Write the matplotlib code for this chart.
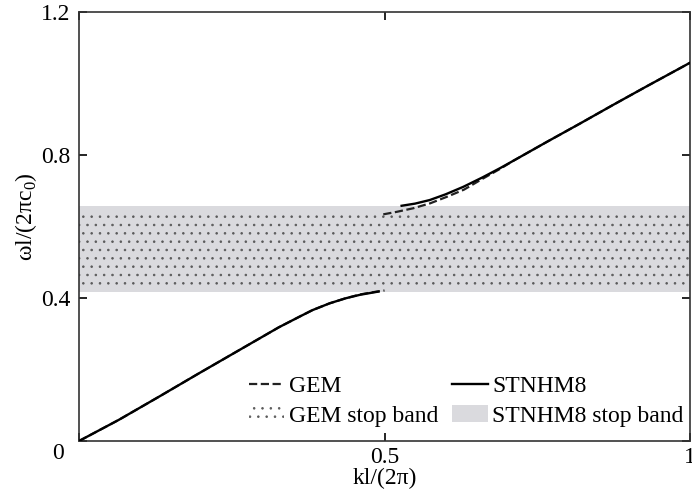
import matplotlib
matplotlib.use('Agg')
import matplotlib.pyplot as plt

plt.rcParams['font.family'] = ['Liberation Serif', 'DejaVu Serif']
plt.rcParams['mathtext.fontset'] = 'custom'
plt.rcParams['mathtext.rm'] = 'Liberation Serif'
plt.rcParams['font.size'] = 17
plt.rcParams['hatch.color'] = '#5a5a5a'
plt.rcParams['hatch.linewidth'] = 0.6

# lower branch (acoustic-like)
k_low = [0, 0.065, 0.131, 0.196, 0.262, 0.327, 0.36, 0.382, 0.41, 0.436, 0.46, 0.48, 0.49]
w_low_stnhm8 = [0, 0.059, 0.124, 0.189, 0.254, 0.318, 0.347, 0.366, 0.385, 0.399, 0.409, 0.415, 0.418]
k_low_gem = [0, 0.065, 0.131, 0.196, 0.262, 0.327, 0.36, 0.382, 0.41, 0.436, 0.46, 0.48, 0.5]
w_low_gem = [0, 0.059, 0.124, 0.189, 0.254, 0.318, 0.347, 0.366, 0.385, 0.399, 0.410, 0.416, 0.421]

# upper branch
k_up_stnhm8 = [0.528, 0.55, 0.574, 0.60, 0.629, 0.66, 0.69, 0.711, 0.765, 0.82, 0.874, 0.929, 1.0]
w_up_stnhm8 = [0.658, 0.664, 0.674, 0.690, 0.711, 0.737, 0.764, 0.784, 0.836, 0.888, 0.940, 0.992, 1.058]
k_up_gem = [0.498, 0.52, 0.547, 0.575, 0.602, 0.63, 0.66, 0.69, 0.711, 0.765, 0.82, 0.874, 0.929, 1.0]
w_up_gem = [0.634, 0.641, 0.651, 0.665, 0.683, 0.703, 0.733, 0.762, 0.784, 0.836, 0.888, 0.940, 0.992, 1.058]

# stop bands
gem_band = (0.421, 0.634)
stnhm8_band = (0.418, 0.656)

fig = plt.figure(figsize=(6.92, 4.98), dpi=100)
ax = fig.add_axes([79 / 692, 57 / 498, 611 / 692, 429 / 498])

ax.axhspan(stnhm8_band[0], stnhm8_band[1], facecolor='#dadade', edgecolor='none',
           zorder=1, label='STNHM8 stop band')
ax.axhspan(gem_band[0], gem_band[1], facecolor='none', edgecolor='#5a5a5a', hatch='..',
           linewidth=0, zorder=2, label='GEM stop band')

ax.plot(k_low_gem, w_low_gem, color='#222222', linestyle='--', linewidth=1.6, zorder=3)
ax.plot(k_up_gem, w_up_gem, color='#222222', linestyle='--', linewidth=1.6, zorder=3,
        label='GEM')
ax.plot(k_low, w_low_stnhm8, color='black', linewidth=1.7, zorder=4)
ax.plot(k_up_stnhm8, w_up_stnhm8, color='black', linewidth=1.7, zorder=4, label='STNHM8')

ax.set_xlim(0, 1)
ax.set_ylim(0, 1.2)
ax.set_xticks([0, 0.5, 1])
ax.set_xticklabels(['', '0.5', '1'])
ax.set_yticks([0, 0.4, 0.8, 1.2])
ax.set_yticklabels(['', '0.4', '0.8', '1.2'])
ax.tick_params(direction='in', length=6, width=1.2, top=True, right=True, labelsize=17)
ax.tick_params(axis='x', pad=4)
ax.tick_params(axis='y', pad=6)
ax.text(-0.035, -0.035, '0', ha='center', va='center', fontsize=17, clip_on=False)

for s in ax.spines.values():
    s.set_linewidth(1.2)
    s.set_color('#333333')

ax.set_xlabel('kl/(2π)', fontsize=17, labelpad=0)
ax.set_ylabel(r'ωl/(2πc$_0$)', fontsize=17)
ax.yaxis.set_label_coords(-0.065, 0.524)

handles, labels = ax.get_legend_handles_labels()
order = ['GEM', 'GEM stop band', 'STNHM8', 'STNHM8 stop band']
hmap = dict(zip(labels, handles))
ax.legend([hmap[o] for o in order], order, loc='lower right', ncol=2, frameon=False,
          fontsize=17, handlelength=1.5, handletextpad=0.2, columnspacing=0.6,
          labelspacing=0.35, borderaxespad=0.2, bbox_to_anchor=(1.013, 0.0))

fig.savefig('out.png', dpi=100)
